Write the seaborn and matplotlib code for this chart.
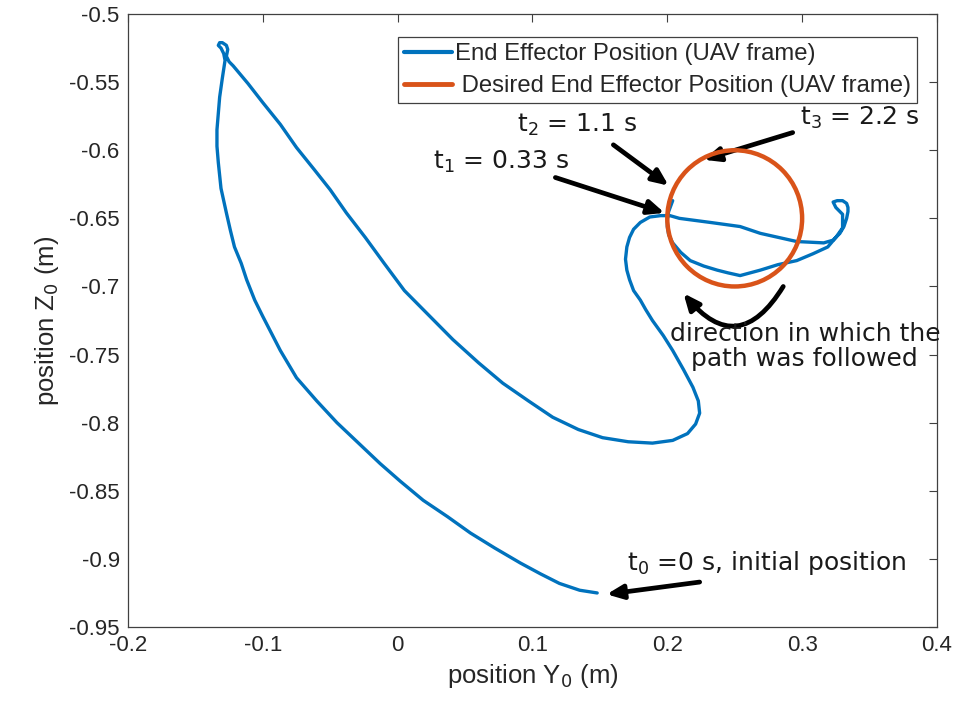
import numpy as np
import pandas as pd
import matplotlib
matplotlib.use("Agg")
import matplotlib.pyplot as plt
from matplotlib.patches import Circle
from matplotlib.lines import Line2D
import seaborn as sns

# Measured end-effector trajectory (UAV frame), in metres
pos_y = [0.148, 0.135, 0.120, 0.106, 0.091, 0.072, 0.054, 0.037, 0.019, 0.002,
         -0.013, -0.029, -0.045, -0.060, -0.075, -0.087, -0.100, -0.106, -0.112,
         -0.116, -0.121, -0.124, -0.127, -0.131, -0.133, -0.134, -0.134, -0.133,
         -0.132, -0.130, -0.128,
         -0.129, -0.131, -0.133, -0.132, -0.130, -0.127, -0.126, -0.127, -0.125,
         -0.122, -0.111, -0.100, -0.087, -0.075, -0.062, -0.050, -0.038, -0.024,
         -0.010, 0.005, 0.020, 0.041, 0.060, 0.078, 0.097, 0.115, 0.134, 0.152,
         0.171, 0.189, 0.204, 0.215, 0.221, 0.224, 0.223, 0.219, 0.212, 0.204,
         0.197, 0.189, 0.184, 0.180, 0.175, 0.172, 0.170, 0.169, 0.170, 0.172,
         0.175, 0.180, 0.187, 0.195, 0.202, 0.209, 0.232, 0.254, 0.269, 0.296,
         0.316, 0.323, 0.328, 0.331, 0.333, 0.334, 0.334, 0.333, 0.330, 0.326,
         0.323, 0.324, 0.325, 0.328, 0.330, 0.330, 0.330, 0.325, 0.319, 0.308,
         0.296, 0.282, 0.269, 0.254, 0.245, 0.237, 0.227, 0.217, 0.210, 0.204,
         0.201, 0.200, 0.200, 0.201, 0.204]
pos_z = [-0.925, -0.923, -0.918, -0.911, -0.903, -0.892, -0.881, -0.869, -0.857,
         -0.843, -0.830, -0.815, -0.800, -0.784, -0.767, -0.747, -0.722, -0.710,
         -0.695, -0.683, -0.671, -0.659, -0.646, -0.628, -0.609, -0.597, -0.585,
         -0.573, -0.561, -0.547, -0.534,
         -0.529, -0.525, -0.523, -0.521, -0.521, -0.523, -0.526, -0.531, -0.535,
         -0.538, -0.551, -0.565, -0.581, -0.598, -0.614, -0.629, -0.646, -0.664,
         -0.683, -0.703, -0.718, -0.739, -0.756, -0.771, -0.784, -0.796, -0.805,
         -0.811, -0.814, -0.815, -0.813, -0.808, -0.801, -0.793, -0.784, -0.774,
         -0.761, -0.747, -0.736, -0.725, -0.717, -0.710, -0.703, -0.695, -0.688,
         -0.680, -0.671, -0.664, -0.658, -0.653, -0.649, -0.648, -0.648, -0.650,
         -0.653, -0.656, -0.661, -0.667, -0.668, -0.666, -0.661, -0.656, -0.650,
         -0.645, -0.642, -0.639, -0.637, -0.637, -0.638, -0.640, -0.642, -0.645,
         -0.647, -0.652, -0.657, -0.664, -0.671, -0.676, -0.681, -0.684, -0.688,
         -0.692, -0.690, -0.688, -0.685, -0.681, -0.675, -0.668, -0.662, -0.656,
         -0.651, -0.645, -0.637]

# Desired circular path
circle_center = (0.25, -0.65)
circle_radius = 0.05

x_ticks = [-0.2, -0.1, 0, 0.1, 0.2, 0.3, 0.4]
x_tick_labels = ["-0.2", "-0.1", "0", "0.1", "0.2", "0.3", "0.4"]
y_ticks = [-0.95, -0.9, -0.85, -0.8, -0.75, -0.7, -0.65, -0.6, -0.55, -0.5]
y_tick_labels = ["-0.95", "-0.9", "-0.85", "-0.8", "-0.75", "-0.7", "-0.65",
                 "-0.6", "-0.55", "-0.5"]

series_labels = ["End Effector Position (UAV frame)",
                 " Desired End Effector Position (UAV frame)"]

BLUE = "#0072BD"
ORANGE = "#D95319"
AX_COLOR = "#404040"

sns.set_theme(style="white")
plt.rcParams["font.family"] = ["Liberation Sans", "DejaVu Sans"]
plt.rcParams["mathtext.fontset"] = "dejavusans"

fig = plt.figure(figsize=(9.6, 7.13), dpi=100)
ax = fig.add_axes([0.1333, 0.1206, 0.8427, 0.8597])

df = pd.DataFrame({"y": pos_y, "z": pos_z})
sns.lineplot(data=df, x="y", y="z", sort=False, estimator=None, ax=ax,
             color=BLUE, linewidth=2.4, solid_joinstyle="round",
             solid_capstyle="round", zorder=3)

ax.add_patch(Circle(circle_center, circle_radius, fill=False,
                    edgecolor=ORANGE, linewidth=3.2, zorder=4))

ax.set_xlim(-0.2, 0.4)
ax.set_ylim(-0.95, -0.5)
ax.set_xticks(x_ticks)
ax.set_xticklabels(x_tick_labels)
ax.set_yticks(y_ticks)
ax.set_yticklabels(y_tick_labels)
ax.tick_params(direction="in", length=6, width=0.8, colors=AX_COLOR,
               labelsize=16, top=True, right=True, labelcolor="#262626",
               pad=6)
for sp in ax.spines.values():
    sp.set_color(AX_COLOR)
    sp.set_linewidth(0.9)
    sp.set_visible(True)

ax.set_xlabel("position Y$_0$ (m)", fontsize=18.5, color="#262626", labelpad=4)
ax.set_ylabel("position Z$_0$ (m)", fontsize=18.5, color="#262626", labelpad=6)

handles = [Line2D([], [], color=BLUE, lw=3),
           Line2D([], [], color=ORANGE, lw=3.5)]
leg = ax.legend(handles, series_labels, loc="upper left",
                bbox_to_anchor=(0.334, 0.9625), borderaxespad=0,
                fontsize=17.2, frameon=True, fancybox=False, framealpha=1,
                edgecolor=AX_COLOR, handlelength=2.0, handletextpad=0.1,
                labelspacing=0.42, borderpad=0.26)
leg.get_frame().set_linewidth(0.9)

# Annotations
ann_font = dict(family="DejaVu Sans", fontsize=18, color="#1a1a1a")
arrow = dict(arrowstyle="-|>,head_length=0.8,head_width=0.35", color="black",
             lw=3.4, shrinkA=0, shrinkB=0)

ax.text(0.0263, -0.6087, "t$_1$ = 0.33 s", ha="left", va="center", **ann_font)
ax.annotate("", xy=(0.198, -0.646), xytext=(0.117, -0.620), arrowprops=arrow)

ax.text(0.0886, -0.5815, "t$_2$ = 1.1 s", ha="left", va="center", **ann_font)
ax.annotate("", xy=(0.201, -0.626), xytext=(0.160, -0.596), arrowprops=arrow)

ax.text(0.2985, -0.5764, "t$_3$ = 2.2 s", ha="left", va="center", **ann_font)
ax.annotate("", xy=(0.227, -0.607), xytext=(0.293, -0.587), arrowprops=arrow)

ax.text(0.170, -0.903, "t$_0$ =0 s, initial position", ha="left",
        va="center", **ann_font)
ax.annotate("", xy=(0.155, -0.926), xytext=(0.224, -0.917), arrowprops=arrow)

ax.annotate("", xy=(0.212, -0.705), xytext=(0.286, -0.700),
            arrowprops=dict(arrow, connectionstyle="arc3,rad=-0.7"))
ax.text(0.302, -0.744, "direction in which the\npath was followed",
        ha="center", va="center", multialignment="center",
        linespacing=1.05, **ann_font)

fig.savefig("out.png", dpi=100)
